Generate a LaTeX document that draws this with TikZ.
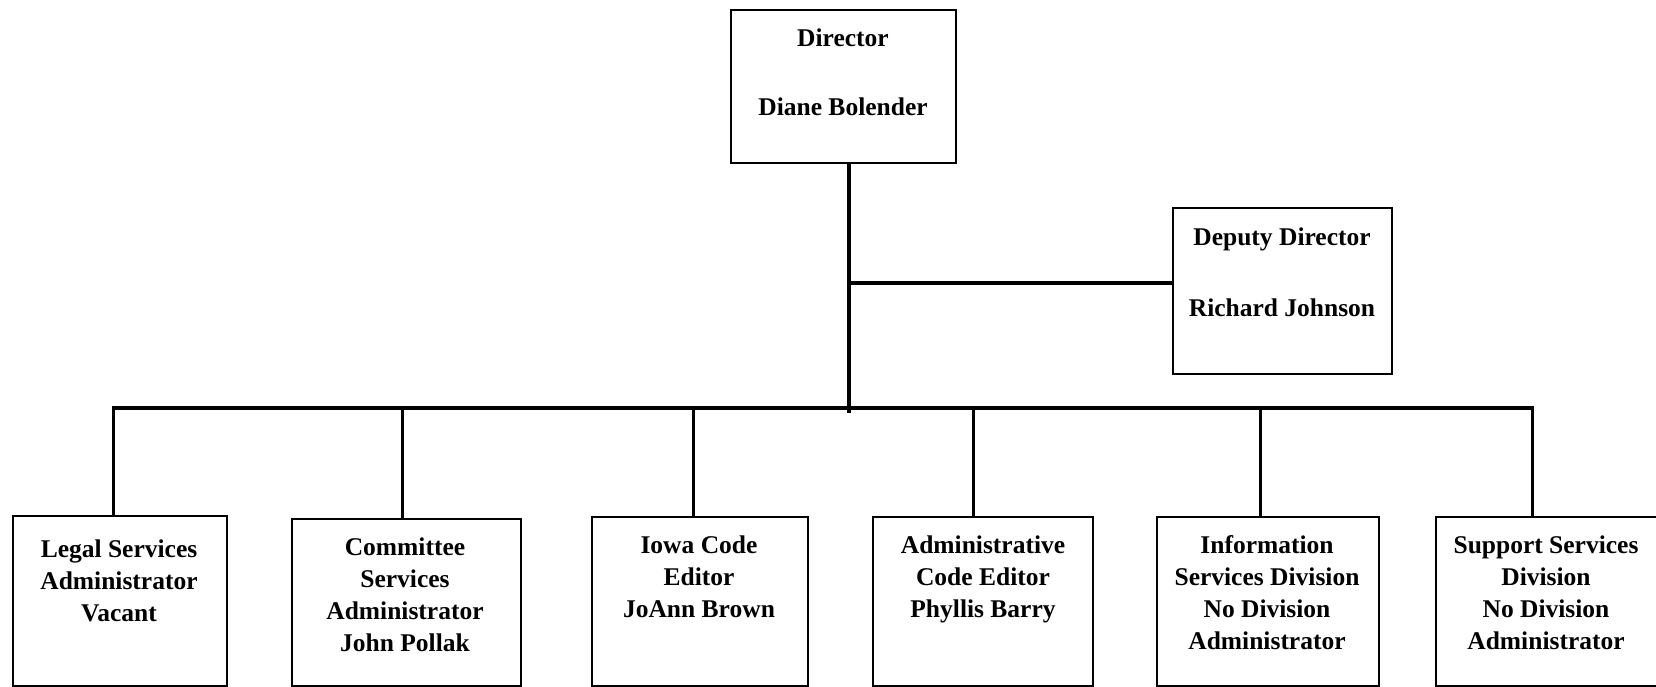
\documentclass[tikz,border=0pt]{standalone}
\usepackage{fontspec}
\setmainfont{Liberation Serif}
\begin{document}
\begin{tikzpicture}[x=1pt,y=-1pt,
  every node/.style={inner sep=0pt, outer sep=0pt},
  unitbox/.style={draw=black, line width=2.2pt, fill=none},
  label/.style={font=\fontsize{25.5}{32}\selectfont\bfseries, anchor=base},
  blocktext/.style={font=\fontsize{25.5}{32}\selectfont\bfseries, align=center, anchor=north},
  stemline/.style={line width=4pt},
  busline/.style={line width=4pt},
  dropline/.style={line width=3pt}
]
\useasboundingbox (0,0) rectangle (1656,687);
\clip (0,0) rectangle (1656,687);
\fill[white] (0,0) rectangle (1656,687);

% Director and deputy
\node[unitbox, minimum width=225pt, minimum height=153pt] (dir) at (843.5,86.5) {};
\node[label] (dirT) at (843,47) {Director};
\node[label] (dirN) at (843,116) {Diane Bolender};

\node[unitbox, minimum width=219pt, minimum height=166pt] (dep) at (1282.5,291) {};
\node[label] (depT) at (1282,245.5) {Deputy Director};
\node[label] (depN) at (1282,316) {Richard Johnson};

% Division boxes (run off the bottom edge)
\node[unitbox, minimum width=214pt, minimum height=170pt] (leg) at (120,601) {};
\node[unitbox, minimum width=229pt, minimum height=167pt] (com) at (406.5,602.5) {};
\node[unitbox, minimum width=216pt, minimum height=169pt] (iow) at (700,601.5) {};
\node[unitbox, minimum width=220pt, minimum height=169pt] (adm) at (983,601.5) {};
\node[unitbox, minimum width=222pt, minimum height=169pt] (inf) at (1268,601.5) {};
\node[unitbox, minimum width=222pt, minimum height=169pt] (sup) at (1547,601.5) {};

\node[blocktext] (legT) at (119,540) {Legal Services\\Administrator\\Vacant};
\node[blocktext] (comT) at (405,538) {Committee\\Services\\Administrator\\John Pollak};
\node[blocktext] (iowT) at (699,536) {Iowa Code\\Editor\\JoAnn Brown};
\node[blocktext] (admT) at (983,536) {Administrative\\Code Editor\\Phyllis Barry};
\node[blocktext] (infT) at (1267,536) {Information\\Services Division\\No Division\\Administrator};
\node[blocktext] (supT) at (1546,536) {Support Services\\Division\\No Division\\Administrator};

% Connectors
\coordinate (stem) at (849,413);
\coordinate (branch) at (849,283);
\coordinate (busL) at (113,408);
\coordinate (busR) at (1532,408);
\draw[stemline] (dir.south -| stem) -- (stem);
\draw[stemline] (branch) -- (branch -| dep.west);
\draw[busline] ([xshift=-1.5pt]busL) -- ([xshift=1.5pt]busR);

\coordinate (d1) at (113,408);
\coordinate (d2) at (402,408);
\coordinate (d3) at (693,408);
\coordinate (d4) at (973,408);
\coordinate (d5) at (1260,408);
\coordinate (d6) at (1532,408);
\draw[dropline] (d1) -- (d1 |- leg.north);
\draw[dropline] (d2) -- (d2 |- com.north);
\draw[dropline] (d3) -- (d3 |- iow.north);
\draw[dropline] (d4) -- (d4 |- adm.north);
\draw[dropline] (d5) -- (d5 |- inf.north);
\draw[dropline] (d6) -- (d6 |- sup.north);
\end{tikzpicture}
\end{document}
